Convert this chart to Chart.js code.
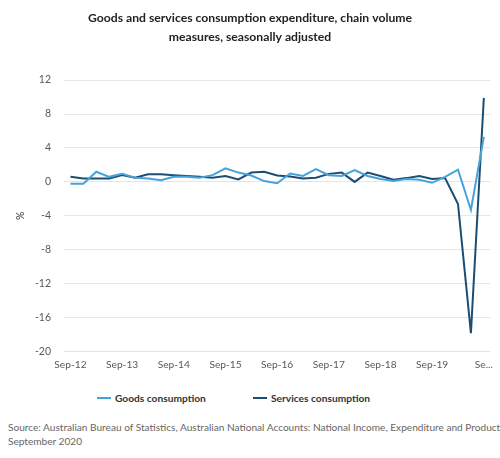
<!DOCTYPE html>
<html>
<head>
<meta charset="utf-8">
<script src="https://cdn.jsdelivr.net/npm/chart.js@4/dist/chart.umd.min.js"></script>
<style>
  body { margin: 0; background: #fff; font-family: Lato, sans-serif; }
  #wrap { position: relative; width: 500px; height: 458px; }
  #chart-box { position: absolute; left: 0; top: 0; width: 500px; height: 378px; }
  .legend { position: absolute; top: 391px; font-size: 10.2px; line-height: 14px; font-weight: 700; color: #333; white-space: nowrap; }
  .legend span.sw { display: inline-block; width: 14px; height: 2px; vertical-align: middle; margin-right: 4px; position: relative; top: -1px; }
  #source { position: absolute; left: 8px; top: 421px; font-size: 10.1px; line-height: 13.5px; color: #666; white-space: nowrap; }
</style>
</head>
<body>
<div id="wrap">
  <div id="chart-box"><canvas id="chart"></canvas></div>
  <div class="legend" style="left:97px"><span class="sw" style="background:#45A2DA"></span>Goods consumption</div>
  <div class="legend" style="left:253px"><span class="sw" style="background:#1C4D73"></span>Services consumption</div>
  <div id="source">Source: Australian Bureau of Statistics, Australian National Accounts: National Income, Expenditure and Product<br>September 2020</div>
</div>
<script>
  const quarters = [
    'Sep-12', 'Dec-12', 'Mar-13', 'Jun-13', 'Sep-13', 'Dec-13', 'Mar-14', 'Jun-14',
    'Sep-14', 'Dec-14', 'Mar-15', 'Jun-15', 'Sep-15', 'Dec-15', 'Mar-16', 'Jun-16',
    'Sep-16', 'Dec-16', 'Mar-17', 'Jun-17', 'Sep-17', 'Dec-17', 'Mar-18', 'Jun-18',
    'Sep-18', 'Dec-18', 'Mar-19', 'Jun-19', 'Sep-19', 'Dec-19', 'Mar-20', 'Jun-20',
    'Sep-20'
  ];
  const goods = [
    -0.2, -0.2, 1.2, 0.6, 0.95, 0.5, 0.4, 0.2,
    0.6, 0.6, 0.5, 0.8, 1.6, 1.1, 0.75, 0.1,
    -0.15, 1.0, 0.7, 1.5, 0.8, 0.7, 1.4, 0.7,
    0.35, 0.1, 0.35, 0.25, -0.1, 0.6, 1.45, -3.3,
    5.3
  ];
  const services = [
    0.6, 0.4, 0.4, 0.4, 0.8, 0.5, 0.9, 0.9,
    0.8, 0.7, 0.6, 0.5, 0.7, 0.3, 1.1, 1.2,
    0.75, 0.65, 0.4, 0.5, 0.95, 1.1, 0.0, 1.1,
    0.7, 0.25, 0.45, 0.7, 0.35, 0.45, -2.6, -17.8,
    9.9
  ];
  const yTicks = [12, 8, 4, 0, -4, -8, -12, -16, -20];

  const ctx = document.getElementById('chart').getContext('2d');
  new Chart(ctx, {
    type: 'line',
    data: {
      labels: quarters,
      datasets: [
        { label: 'Goods consumption', data: goods, borderColor: '#45A2DA', backgroundColor: '#45A2DA',
          borderWidth: 2, pointRadius: 0, tension: 0 },
        { label: 'Services consumption', data: services, borderColor: '#1C4D73', backgroundColor: '#1C4D73',
          borderWidth: 2, pointRadius: 0, tension: 0 }
      ]
    },
    options: {
      responsive: true,
      maintainAspectRatio: false,
      animation: false,
      layout: { padding: { left: 8, right: 8, top: 0, bottom: 0 } },
      plugins: {
        legend: { display: false },
        tooltip: { enabled: false },
        title: {
          display: true,
          text: ['Goods and services consumption expenditure, chain volume', 'measures, seasonally adjusted'],
          color: '#222',
          font: { family: 'Lato', size: 12.2, weight: 'bold', lineHeight: 1.6 },
          padding: { top: 8, bottom: 33 }
        }
      },
      scales: {
        x: {
          offset: true,
          grid: { display: false, drawTicks: false },
          border: { display: false },
          ticks: {
            autoSkip: false,
            maxRotation: 0,
            color: '#595959',
            font: { family: 'Lato', size: 10.2 },
            padding: 7,
            callback: function (v, i) {
              if (i === quarters.length - 1) return 'Se...';
              return i % 4 === 0 ? quarters[i] : '';
            }
          }
        },
        y: {
          min: yTicks[yTicks.length - 1],
          max: yTicks[0],
          afterBuildTicks: (scale) => { scale.ticks = yTicks.map(v => ({ value: v })); },
          afterFit: (scale) => { scale.width = 56; },
          grid: {
            color: (c) => c.tick && c.tick.value === -20 ? '#dde4ef' : '#e6e6e6',
            lineWidth: 1,
            drawTicks: false
          },
          border: { display: false },
          ticks: { color: '#595959', font: { family: 'Lato', size: 10.5 }, padding: 13 },
          title: { display: true, text: '%', color: '#333', font: { family: 'Lato', size: 10.5 }, padding: { top: 6, bottom: 0 } }
        }
      }
    }
  });
</script>
</body>
</html>
